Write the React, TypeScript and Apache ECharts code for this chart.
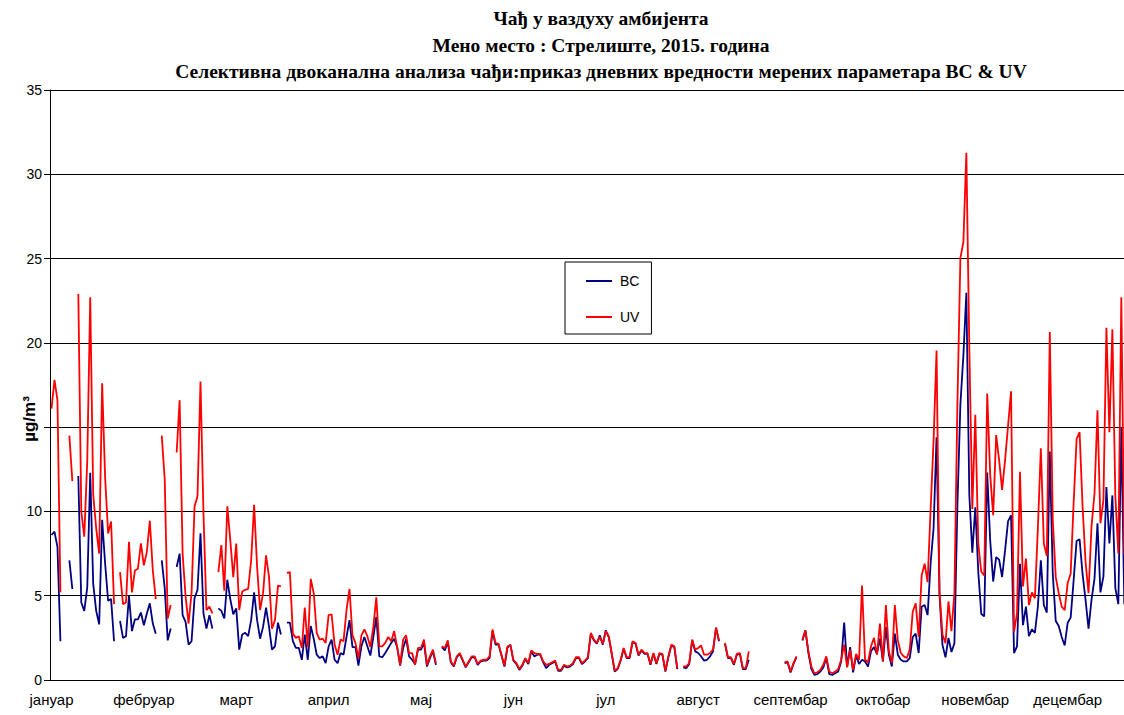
import React, { useEffect, useRef } from "react";
import * as echarts from "echarts";

// ---------- DATA ----------
const monthNames = ["јануар", "фебруар", "март", "април", "мај", "јун", "јул", "август", "септембар", "октобар", "новембар", "децембар"];
const monthDays = [31, 28, 31, 30, 31, 30, 31, 31, 30, 31, 30, 31];
const n = null;

// BC (µg/m3), daily, by month
const bcJan = [8.6, 8.8, 7.9, 2.3, n, n, 7.1, 5.4, n, 12.1, 4.6, 4.1, 5.5, 12.3, 5.7, 4.1, 3.3, 9.5, 6.9, 4.7, 4.8, 2.3, n, 3.5, 2.5, 2.6, 5.0, 2.9, 3.6, 3.6, 4.0];
const bcFeb = [3.25, 3.95, 4.55, 3.35, 2.75, n, 7.1, 5.45, 2.35, 3.05, n, 6.7, 7.5, 3.85, 3.45, 2.1, 2.3, 4.85, 5.35, 8.7, 3.95, 3.05, 3.85, 3.05, n, 4.25, 4.1, 3.65];
const bcMar = [5.95, 4.8, 3.9, 4.25, 1.8, 2.7, 2.8, 2.6, 3.55, 5.2, 3.55, 2.45, 3.15, 4.3, 3.15, 1.8, 2.0, 3.4, 2.7, n, 3.4, 3.4, 2.3, 1.9, 1.9, 1.2, 2.7, 1.2, 3.2, 2.45, 1.5];
const bcApr = [1.3, 1.4, 1.0, 2.0, 2.4, 1.2, 1.0, 1.6, 1.5, 2.55, 3.55, 1.95, 1.95, 0.85, 2.0, 2.55, 2.0, 1.45, 2.55, 3.75, 1.4, 1.35, 1.6, 1.9, 2.2, 2.45, 1.95, 0.85, 1.9, 2.45];
const bcMay = [1.4, 1.2, 0.95, 1.8, 1.8, 2.2, 0.8, 1.3, 1.7, 0.9, n, 1.95, 1.75, 2.25, 1.05, 0.8, 1.35, 1.55, 1.15, 0.75, 1.05, 1.35, 1.35, 0.9, 1.1, 1.15, 1.15, 1.3, 2.9, 2.1, 2.1];
const bcJun = [1.45, 0.8, 1.9, 2.1, 1.15, 0.95, 0.6, 0.85, 1.25, 0.95, 1.7, 1.4, 1.5, 1.5, 1.05, 0.7, 0.9, 1.0, 1.1, 0.55, 0.55, 0.85, 0.75, 0.8, 0.95, 1.3, 1.3, 0.95, 1.1, 1.3];
const bcJul = [2.75, 2.35, 2.15, 2.65, 2.1, 2.95, 2.55, 1.55, 0.5, 0.65, 1.15, 1.85, 1.3, 1.3, 2.25, 2.15, 1.45, 1.75, 1.55, 1.55, 0.9, 1.55, 0.95, 1.55, 1.5, 0.5, 1.35, 2.05, 1.95, 0.65, n];
const bcAug = [0.75, 0.7, 0.95, 2.35, 1.7, 1.6, 1.4, 1.15, 1.2, 1.4, 1.7, 3.1, 2.3, n, 2.15, 1.3, 1.3, 0.9, 1.5, 1.55, 0.65, 0.65, 1.2, n, n, n, n, n, n, n, n];
const bcSep = [n, n, n, 1.0, 1.05, 0.45, 0.95, 1.35, n, 2.35, 2.95, 1.6, 0.65, 0.3, 0.35, 0.5, 0.75, 1.3, 0.35, 0.3, 0.4, 0.5, 1.1, 3.4, 0.8, 1.95, 0.45, 1.45, 0.95, 1.2];
const bcOct = [1.1, 0.8, 1.7, 1.95, 1.55, 2.45, 1.1, 3.15, 1.5, 0.8, 2.75, 1.5, 1.2, 1.1, 1.1, 1.3, 2.55, 2.75, 1.6, 4.35, 4.45, 3.85, 6.9, 9.0, 14.4, 5.0, 2.07, 1.35, 2.49, 1.66, 2.18];
const bcNov = [10.35, 16.35, 19.24, 22.97, 10.97, 7.55, 10.24, 6.42, 3.93, 3.77, 12.31, 8.28, 5.84, 7.29, 7.14, 6.11, 7.7, 9.42, 9.77, 1.6, 2.0, 6.9, 3.25, 4.35, 2.6, 3.0, 2.8, 4.35, 7.1, 4.45];
const bcDec = [4.0, 13.55, 6.3, 3.5, 3.2, 2.55, 2.05, 3.4, 3.7, 5.9, 8.25, 8.35, 6.3, 4.75, 3.05, 4.75, 6.0, 9.3, 5.2, 6.15, 11.45, 8.1, 10.95, 5.45, 4.5, 15.0, 4.5, n, n, n, n];

// UV (µg/m3), daily, by month
const uvJan = [16.1, 17.8, 16.6, 5.2, n, n, 14.5, 11.8, n, 22.9, 10.0, 8.5, 13.0, 22.7, 11.0, 9.0, 7.5, 17.6, 12.0, 8.7, 9.4, 4.5, n, 6.4, 4.5, 4.6, 8.2, 5.2, 6.5, 6.6, 8.1];
const uvFeb = [6.8, 7.6, 9.45, 6.5, 4.8, n, 14.5, 11.9, 3.65, 4.45, n, 13.5, 16.6, 7.5, 4.95, 3.35, 5.15, 10.3, 10.9, 17.7, 9.9, 4.15, 4.35, 3.95, n, 6.4, 8.0, 5.3];
const uvMar = [10.3, 8.3, 6.1, 8.1, 4.15, 5.25, 5.35, 5.4, 7.1, 10.4, 6.7, 4.15, 5.15, 7.4, 6.1, 3.05, 3.55, 5.6, 5.55, n, 6.35, 6.4, 2.75, 2.5, 2.6, 1.9, 4.3, 1.95, 6.0, 5.15, 2.8];
const uvApr = [2.4, 2.45, 2.2, 3.85, 3.9, 2.1, 1.5, 2.4, 2.3, 4.15, 5.4, 2.65, 2.2, 1.3, 2.65, 3.0, 2.6, 1.95, 3.15, 4.9, 2.0, 2.0, 2.2, 2.55, 2.3, 2.9, 1.95, 0.9, 2.4, 2.65];
const uvMay = [1.6, 1.6, 0.9, 1.9, 1.9, 2.4, 0.9, 1.4, 1.8, 1.0, n, 2.0, 1.9, 2.35, 1.1, 0.85, 1.4, 1.6, 1.2, 0.8, 1.1, 1.4, 1.4, 0.95, 1.15, 1.2, 1.2, 1.4, 3.0, 2.2, 2.15];
const uvJun = [1.5, 0.85, 2.0, 2.05, 1.2, 1.0, 0.65, 0.9, 1.3, 1.0, 1.75, 1.6, 1.55, 1.55, 1.1, 0.9, 0.95, 1.05, 1.15, 0.6, 0.6, 0.9, 0.8, 0.85, 1.0, 1.35, 1.35, 1.0, 1.15, 1.35];
const uvJul = [2.8, 2.4, 2.2, 2.55, 2.15, 2.9, 2.6, 1.6, 0.55, 0.7, 1.2, 1.9, 1.35, 1.35, 2.3, 2.2, 1.5, 1.8, 1.6, 1.6, 0.95, 1.6, 1.0, 1.6, 1.55, 0.55, 1.4, 2.1, 2.0, 0.7, n];
const uvAug = [0.8, 0.8, 1.0, 2.4, 1.8, 1.9, 2.05, 1.5, 1.5, 1.6, 1.8, 3.1, 2.35, n, 2.2, 1.35, 1.35, 0.95, 1.55, 1.6, 0.7, 0.7, 1.7, n, n, n, n, n, n, n, n];
const uvSep = [n, n, n, 1.05, 1.1, 0.5, 1.0, 1.4, n, 2.4, 2.95, 1.7, 0.8, 0.4, 0.45, 0.6, 0.9, 1.4, 0.5, 0.4, 0.5, 0.65, 1.2, 2.1, 0.75, 1.8, 0.6, 1.55, 1.2, 5.6];
const uvOct = [1.2, 1.05, 2.0, 2.5, 1.5, 3.35, 1.1, 4.45, 1.7, 1.0, 4.45, 2.35, 1.6, 1.4, 1.3, 1.8, 4.05, 4.55, 2.55, 6.2, 6.9, 5.8, 10.1, 14.2, 19.55, 5.2, 2.69, 2.18, 4.66, 2.9, 5.18];
const uvNov = [16.35, 25.04, 25.97, 31.28, 19.66, 10.14, 15.73, 8.07, 6.42, 6.21, 17.0, 12.2, 9.77, 14.53, 13.04, 11.28, 13.04, 15.1, 17.13, 2.85, 3.95, 12.35, 5.55, 7.2, 4.45, 5.2, 4.85, 9.0, 13.75, 8.1];
const uvDec = [7.35, 20.65, 9.5, 6.1, 5.15, 4.35, 4.15, 5.75, 6.3, 10.5, 14.3, 14.7, 10.3, 7.0, 5.15, 9.1, 11.05, 16.0, 9.3, 10.65, 20.9, 14.7, 20.8, 10.9, 7.5, 22.7, 7.5, n, n, n, n];

const yTicks = [0, 5, 10, 15, 20, 25, 30, 35];
const titleLines = [
  "Чађ у ваздуху амбијента",
  "Мено место : Стрелиште, 2015. година",
  "Селективна двоканална анализа чађи:приказ дневних вредности мерених параметара BC & UV",
];

// ---------- BUILD ----------
const categories: string[] = [];
monthNames.forEach((m, i) => {
  for (let d = 0; d < monthDays[i]; d++) categories.push(m);
});
const bc = [bcJan, bcFeb, bcMar, bcApr, bcMay, bcJun, bcJul, bcAug, bcSep, bcOct, bcNov, bcDec].flat();
const uv = [uvJan, uvFeb, uvMar, uvApr, uvMay, uvJun, uvJul, uvAug, uvSep, uvOct, uvNov, uvDec].flat();

const DAY_W = 2.98;
const SANS = "Liberation Sans";
const SERIF = "Liberation Serif";

export default function App() {
  const ref = useRef<HTMLDivElement>(null);
  useEffect(() => {
    if (!ref.current) return;
    const chart = echarts.init(ref.current, undefined, { renderer: "svg" });
    const titleY = [18, 45, 71];
    chart.setOption({
      animation: false,
      backgroundColor: "#fff",
      textStyle: { fontFamily: SANS },
      grid: { left: 50, top: 90, width: categories.length * DAY_W, height: 590, containLabel: false },
      legend: {
        orient: "vertical",
        left: 565,
        top: 262,
        data: ["BC", "UV"],
        icon: "rect",
        itemWidth: 26,
        itemHeight: 2,
        itemGap: 22,
        padding: [12, 12, 10, 21],
        borderColor: "#000",
        borderWidth: 1,
        backgroundColor: "#fff",
        textStyle: { fontSize: 14, color: "#000", fontFamily: SANS, padding: [0, 0, 0, 3] },
      },
      xAxis: {
        type: "category",
        data: categories,
        boundaryGap: true,
        axisLine: { lineStyle: { color: "#000", width: 1 } },
        axisTick: { interval: 14, length: 6, lineStyle: { color: "#000" } },
        axisLabel: { interval: 30, fontSize: 15, color: "#000", margin: 12, fontFamily: SANS },
        splitLine: { show: false },
      },
      yAxis: {
        type: "value",
        min: yTicks[0],
        max: yTicks[yTicks.length - 1],
        interval: 5,
        axisLine: { show: true, lineStyle: { color: "#000" } },
        axisTick: { show: true, length: 6, lineStyle: { color: "#000" } },
        axisLabel: {
          fontSize: 14,
          color: "#000",
          margin: 8,
          fontFamily: SANS,
          formatter: (v: number) => (v === 15 ? "" : String(v)),
        },
        splitLine: { lineStyle: { color: "#000", width: 1 } },
      },
      series: [
        {
          name: "BC",
          type: "line",
          data: bc,
          showSymbol: false,
          symbol: "none",
          connectNulls: false,
          lineStyle: { color: "#000080", width: 1.8 },
          itemStyle: { color: "#000080" },
        },
        {
          name: "UV",
          type: "line",
          data: uv,
          showSymbol: false,
          symbol: "none",
          connectNulls: false,
          lineStyle: { color: "#ff0000", width: 1.8 },
          itemStyle: { color: "#ff0000" },
        },
      ],
      graphic: [
        ...titleLines.map((t, i) => ({
          type: "text",
          x: 601,
          y: titleY[i],
          style: {
            text: t,
            fontSize: 19.5,
            fontWeight: "bold",
            fontFamily: SERIF,
            fill: "#000",
            textAlign: "center",
            textVerticalAlign: "middle",
            verticalAlign: "middle",
          },
        })),
        {
          type: "text",
          x: 29,
          y: 419,
          rotation: Math.PI / 2,
          z: 100,
          style: {
            text: "µg/m³",
            fontSize: 17,
            fontWeight: "bold",
            fontFamily: SANS,
            fill: "#000",
            textAlign: "center",
            textVerticalAlign: "middle",
            verticalAlign: "middle",
          },
        },
      ],
    });
    return () => chart.dispose();
  }, []);
  return (
    <div style={{ position: "fixed", left: 0, top: 0, width: 1124, height: 715, overflow: "hidden", background: "#fff" }}>
      <div ref={ref} style={{ width: 1160, height: 715 }} />
    </div>
  );
}
